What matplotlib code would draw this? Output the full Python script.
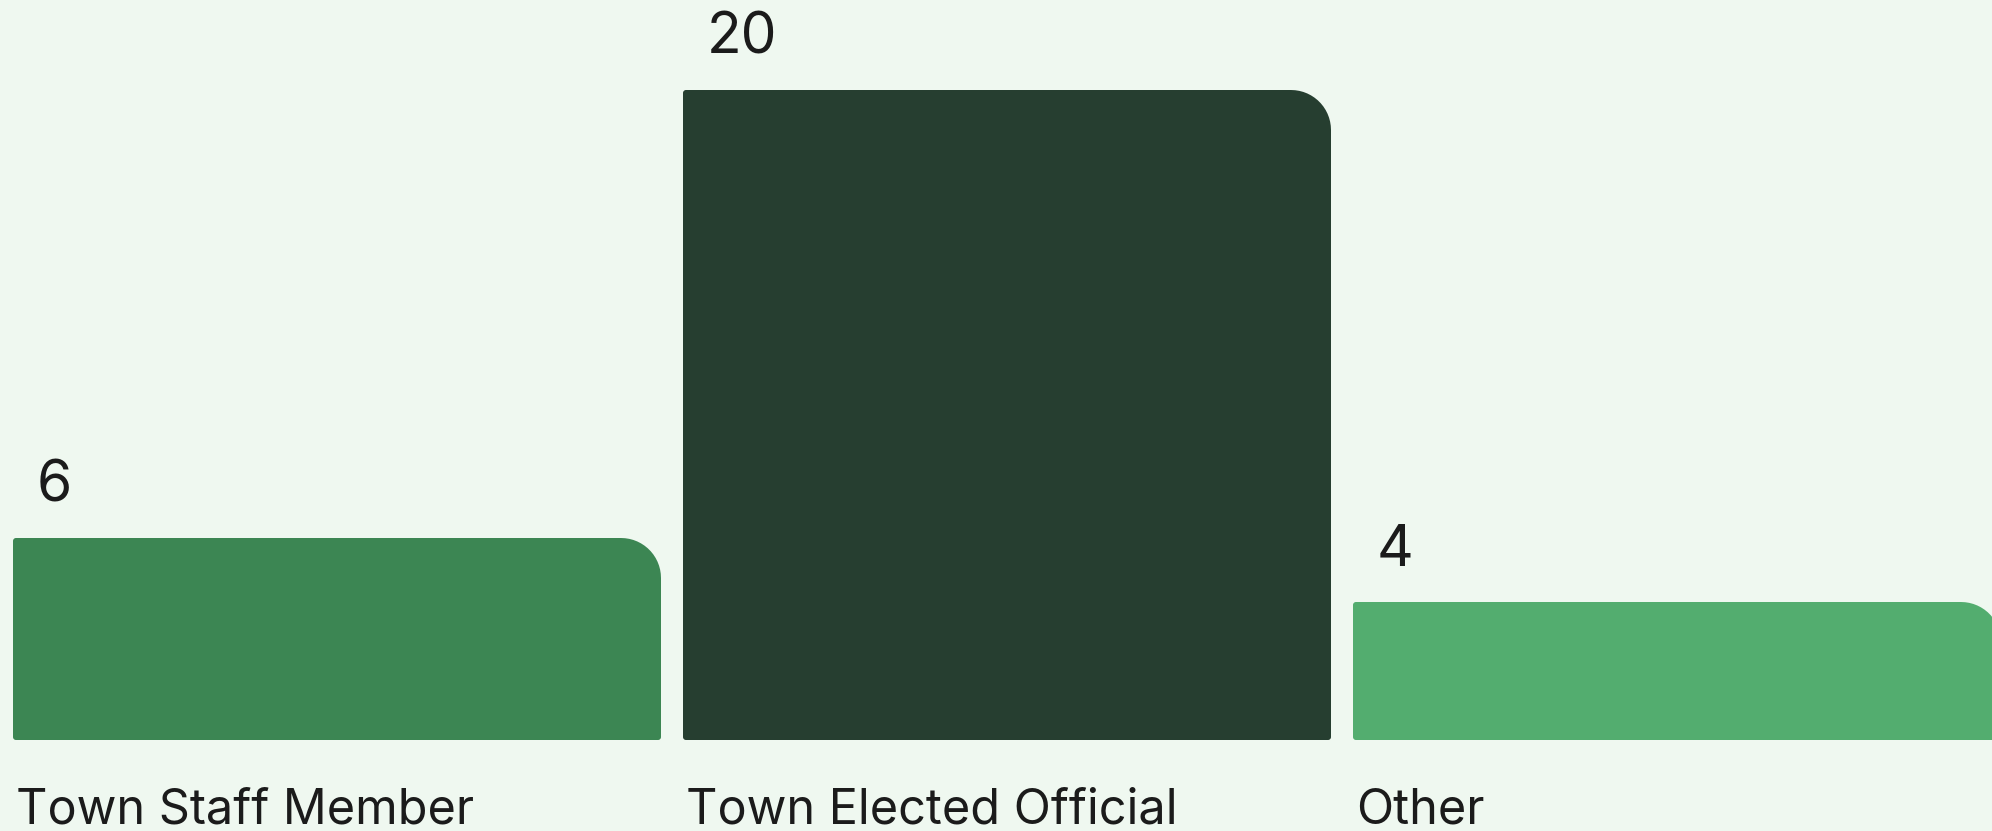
import numpy as np
import matplotlib.pyplot as plt
from matplotlib.path import Path
from matplotlib.patches import PathPatch

plt.rcParams['font.family'] = ['Inter', 'DejaVu Sans']

categories = ['Town Staff Member', 'Town Elected Official', 'Other']
values = [6, 20, 4]
colors = ['#3c8653', '#263e30', '#53ad6f']

bg = '#eff8f0'
text_col = '#1b1b1b'

W, H, DPI = 1992, 831, 100
fig = plt.figure(figsize=(W / DPI, H / DPI), dpi=DPI, facecolor=bg)
ax = fig.add_axes([0, 0, 1, 1])
ax.set_facecolor(bg)

# pixel layout: one category per 670 px, 32 px per unit, zero line 101 px from the bottom
pitch, unit, zero_px = 670.0, 32.0, 101.0
first_center = 337.0
ax.set_xlim(-first_center / pitch, (W - first_center) / pitch)
ax.set_ylim(-zero_px / unit, (H - zero_px) / unit)
ax.axis('off')

width = 648 / pitch
base = -10 / unit          # bars start a little below zero
r_big = 40                 # top-right corner radius, px
r_small = 3


def corner(cx, cy, rx, ry, a0, a1):
    t = np.linspace(a0, a1, 16)
    return list(zip(cx + rx * np.cos(t), cy + ry * np.sin(t)))


def bar_path(x0, x1, y0, y1):
    rxb, ryb = r_big / pitch, r_big / unit
    rxs, rys = r_small / pitch, r_small / unit
    verts = []
    verts += corner(x0 + rxs, y0 + rys, rxs, rys, np.pi, 1.5 * np.pi)      # bottom-left
    verts += corner(x1 - rxs, y0 + rys, rxs, rys, 1.5 * np.pi, 2 * np.pi)  # bottom-right
    verts += corner(x1 - rxb, y1 - ryb, rxb, ryb, 0, 0.5 * np.pi)          # top-right
    verts += corner(x0 + rxs, y1 - rys, rxs, rys, 0.5 * np.pi, np.pi)      # top-left
    verts.append(verts[0])
    codes = [Path.MOVETO] + [Path.LINETO] * (len(verts) - 2) + [Path.CLOSEPOLY]
    return Path(verts, codes)


for i, (cat, v, c) in enumerate(zip(categories, values, colors)):
    left = i - width / 2
    ax.add_patch(PathPatch(bar_path(left, left + width, base, v), facecolor=c, edgecolor='none'))
    ax.annotate(str(v), xy=(left, v), xytext=(24, 36), textcoords='offset pixels',
                ha='left', va='baseline', fontsize=41, color=text_col)
    ax.annotate(cat, xy=(left, 0), xytext=(3, -93), textcoords='offset pixels',
                ha='left', va='baseline', fontsize=35, color=text_col)

fig.savefig('out.png', dpi=DPI, facecolor=bg)
